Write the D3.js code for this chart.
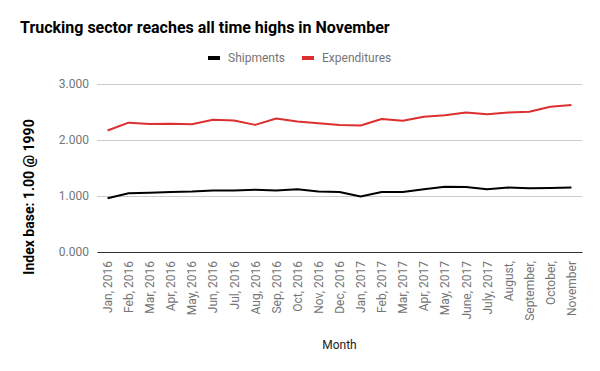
<!DOCTYPE html>
<html>
<head>
<meta charset="utf-8">
<script src="https://cdn.jsdelivr.net/npm/d3@7"></script>
<style>
  body { margin: 0; background: #fff; }
  svg { font-family: Roboto, sans-serif; display: block; }
</style>
</head>
<body>
<div class="chart"></div>
<script>
// chart data
const months = ["Jan, 2016", "Feb, 2016", "Mar, 2016", "Apr, 2016", "May, 2016", "Jun, 2016",
    "Jul, 2016", "Aug, 2016", "Sep, 2016", "Oct, 2016", "Nov, 2016", "Dec, 2016",
    "Jan, 2017", "Feb, 2017", "Mar, 2017", "Apr, 2017", "May, 2017", "June, 2017",
    "July, 2017", "August,", "September,", "October,", "November"];
const shipments = [0.96, 1.05, 1.06, 1.07, 1.08, 1.10, 1.10, 1.11, 1.10, 1.12, 1.08, 1.07,
    0.99, 1.07, 1.07, 1.12, 1.165, 1.16, 1.12, 1.15, 1.14, 1.145, 1.15];
const expenditures = [2.17, 2.31, 2.285, 2.29, 2.28, 2.36, 2.35, 2.27, 2.385, 2.33, 2.30, 2.27,
    2.26, 2.375, 2.345, 2.415, 2.44, 2.49, 2.46, 2.49, 2.505, 2.595, 2.625];
const yTicks = [0, 1, 2, 3];
const seriesNames = ["Shipments", "Expenditures"];
const seriesColors = ["#000000", "#dc2f2f"];

const width = 600, height = 371;
const margin = {top: 84, right: 18, bottom: 119, left: 97};
const innerW = width - margin.left - margin.right;
const innerH = height - margin.top - margin.bottom;

const svg = d3.select(".chart").append("svg")
    .attr("width", width)
    .attr("height", height);

// title
svg.append("text")
    .attr("x", 20)
    .attr("y", 33)
    .attr("font-size", 16)
    .attr("font-weight", "bold")
    .attr("fill", "#000")
    .text("Trucking sector reaches all time highs in November");

// legend
const legendX = [208, 302];
seriesNames.forEach(function(name, i){
    svg.append("rect")
        .attr("x", legendX[i])
        .attr("y", 56)
        .attr("width", 12)
        .attr("height", 4)
        .attr("fill", seriesColors[i]);
    svg.append("text")
        .attr("x", legendX[i] + 20)
        .attr("y", 62)
        .attr("font-size", 12)
        .attr("fill", "#757575")
        .text(name);
});

const g = svg.append("g")
    .attr("transform", "translate(" + margin.left + "," + margin.top + ")");

const x = d3.scalePoint()
    .domain(months)
    .range([0, innerW])
    .padding(0.5);

const y = d3.scaleLinear()
    .domain([0, 3])
    .range([innerH, 0]);

// gridlines
g.append("g")
    .call(d3.axisLeft(y).tickValues(yTicks).tickSize(-innerW).tickFormat(""))
    .call(function(s){ s.select(".domain").remove(); })
    .selectAll("line")
    .attr("stroke", "#cccccc");

// y axis labels
g.append("g")
    .call(d3.axisLeft(y).tickValues(yTicks).tickSize(0).tickPadding(8).tickFormat(d3.format(".3f")))
    .call(function(s){ s.select(".domain").remove(); })
    .selectAll("text")
    .attr("font-family", "Roboto, sans-serif")
    .attr("font-size", 12)
    .attr("fill", "#757575");

// x axis
const xAxis = g.append("g")
    .attr("transform", "translate(0," + innerH + ")")
    .call(d3.axisBottom(x).tickSize(0).tickPadding(0));
xAxis.select(".domain").attr("stroke", "#333").attr("stroke-width", 1.2);
xAxis.selectAll("text")
    .attr("font-family", "Roboto, sans-serif")
    .attr("font-size", 12)
    .attr("fill", "#757575")
    .attr("text-anchor", "end")
    .attr("transform", "translate(4,9) rotate(-90)")
    .attr("dy", 0)
    .attr("x", 0)
    .attr("y", 0);

// lines
const line = d3.line()
    .x(function(d, i){ return x(months[i]); })
    .y(function(d){ return y(d); });

[shipments, expenditures].forEach(function(vals, i){
    g.append("path")
        .datum(vals)
        .attr("fill", "none")
        .attr("stroke", seriesColors[i])
        .attr("stroke-width", 2)
        .attr("stroke-linejoin", "round")
        .attr("d", line);
});

// axis titles
svg.append("text")
    .attr("x", margin.left + innerW / 2)
    .attr("y", 349)
    .attr("text-anchor", "middle")
    .attr("font-size", 12)
    .attr("fill", "#222")
    .text("Month");

svg.append("text")
    .attr("transform", "translate(34,197) rotate(-90)")
    .attr("text-anchor", "middle")
    .attr("font-size", 14)
    .attr("font-weight", "bold")
    .attr("fill", "#000")
    .text("Index base: 1.00 @ 1990");
</script>
</body>
</html>
